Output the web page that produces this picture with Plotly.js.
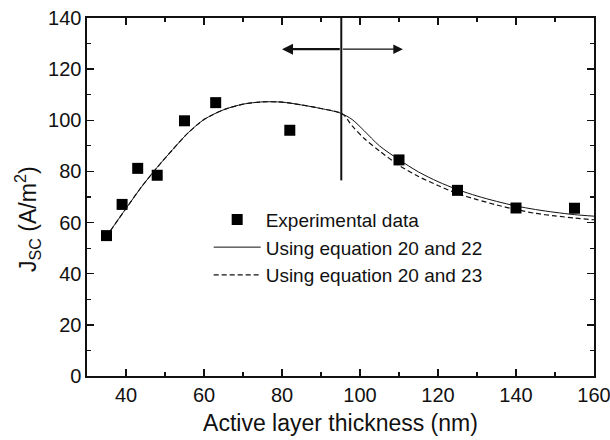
<!DOCTYPE html>
<html>
<head>
<meta charset="utf-8">
<script src="https://cdn.plot.ly/plotly-3.0.1.min.js"></script>
<style>html,body{margin:0;padding:0;background:#fff;}#chart{width:610px;height:440px;}</style>
</head>
<body>
<div id="chart"></div>
<script>
// Experimental data
const expThickness = [35, 39, 43, 48, 55, 63, 82, 110, 125, 140, 155];
const expJsc = [54.9, 67.1, 81.2, 78.5, 99.8, 106.9, 96.1, 84.5, 72.6, 65.7, 65.6];

// Model: equations 20 and 22 (solid)
const eq22Thickness = [36, 40, 44, 48, 52, 56, 60, 65, 70, 75, 80, 85, 90, 95, 98, 101, 105, 110, 115, 120, 125, 130, 135, 140, 145, 150, 155, 160];
const eq22Jsc = [56.8, 65.5, 74.0, 81.6, 88.6, 95.2, 100.3, 104.1, 106.3, 107.2, 107.1, 106.0, 104.6, 102.8, 100.3, 96.0, 90.0, 84.6, 79.8, 76.0, 72.9, 70.4, 68.3, 66.5, 65.1, 64.0, 63.1, 62.5];

// Model: equations 20 and 23 (dashed) - identical to eq22 below the boundary
const eq23Thickness = [36, 40, 44, 48, 52, 56, 60, 65, 70, 75, 80, 85, 90, 95.5, 98, 101, 105, 110, 115, 120, 125, 130, 135, 140, 145, 150, 155, 160];
const eq23Jsc = [56.8, 65.5, 74.0, 81.6, 88.6, 95.2, 100.3, 104.1, 106.3, 107.2, 107.1, 106.0, 104.6, 102.5, 97.8, 93.0, 88.0, 82.4, 78.0, 74.5, 71.3, 69.0, 66.9, 65.1, 63.6, 62.6, 61.8, 61.1];

// Boundary marker and arrow
const boundaryX = 95.2;
const boundaryBottom = 76.5;
const boundaryTop = 140;
const arrowY = 127.8;
const arrowLeftTip = 80;
const arrowRightTip = 111;

const xTicks = [40, 60, 80, 100, 120, 140, 160];
const yTicks = [0, 20, 40, 60, 80, 100, 120, 140];

const legendNames = ['Experimental data', 'Using equation 20 and 22', 'Using equation 20 and 23'];
const xTitle = 'Active layer thickness (nm)';
const yTitle = 'J<sub>SC</sub> (A/m<sup>2</sup>)';

const FONT = 'Liberation Sans, Arial, sans-serif';
const INK = '#111';

const traces = [
  {x: eq22Thickness, y: eq22Jsc, mode: 'lines', name: legendNames[1], legendrank: 2,
   line: {color: INK, width: 1, shape: 'spline', smoothing: 0.8}},
  {x: eq23Thickness, y: eq23Jsc, mode: 'lines', name: legendNames[2], legendrank: 3,
   line: {color: INK, width: 1.2, dash: '5px,3px', shape: 'spline', smoothing: 0.8}},
  {x: expThickness, y: expJsc, mode: 'markers', name: legendNames[0], legendrank: 1,
   marker: {symbol: 'square', size: 11, color: '#000'}}
];

const axisCommon = {
  showgrid: false, zeroline: false, showline: true, linecolor: INK, linewidth: 1.6,
  mirror: 'ticks', ticks: 'inside', ticklen: 7, tickwidth: 1.4, tickcolor: INK,
  ticklabeloverflow: 'allow',
  tickfont: {family: FONT, size: 20, color: INK},
  minor: {ticks: 'inside', ticklen: 4, tickwidth: 1.2, tickcolor: INK}
};

const layout = {
  width: 610, height: 440,
  margin: {l: 87, r: 16, t: 18, b: 64},
  paper_bgcolor: '#fff', plot_bgcolor: '#fff',
  font: {family: FONT, color: INK},
  showlegend: true,
  legend: {x: 0.24, y: 0.49, xanchor: 'left', yanchor: 'top', bgcolor: 'rgba(0,0,0,0)',
           font: {family: FONT, size: 19, color: INK}, itemwidth: 47, tracegroupgap: 0},
  xaxis: Object.assign({}, axisCommon, {
    range: [30, 160], tickvals: xTicks, ticktext: xTicks.map(String),
    minor: Object.assign({}, axisCommon.minor, {dtick: 10, tick0: 30}),
    title: {text: xTitle, font: {family: FONT, size: 23, color: INK}, standoff: 10}
  }),
  xaxis2: {
    overlaying: 'x', anchor: 'y', side: 'bottom', range: [30, 160],
    showgrid: false, zeroline: false, showline: false, showticklabels: false,
    tickvals: xTicks, ticks: 'outside', ticklen: 5, tickwidth: 1.4, tickcolor: INK,
    minor: {dtick: 10, tick0: 30, ticks: 'outside', ticklen: 3, tickwidth: 1.2, tickcolor: INK}
  },
  yaxis: Object.assign({}, axisCommon, {
    range: [0, 140], tickvals: yTicks, ticktext: yTicks.map(String),
    minor: Object.assign({}, axisCommon.minor, {dtick: 10, tick0: 0})
  }),
  shapes: [
    {type: 'line', xref: 'x', yref: 'y', x0: boundaryX, x1: boundaryX, y0: boundaryBottom, y1: boundaryTop,
     line: {color: INK, width: 2}}
  ],
  annotations: [
    {xref: 'x', yref: 'y', axref: 'x', ayref: 'y', x: arrowLeftTip, y: arrowY, ax: boundaryX, ay: arrowY,
     text: '', showarrow: true, arrowhead: 2, arrowsize: 1, arrowwidth: 2.2, arrowcolor: INK},
    {xref: 'x', yref: 'y', axref: 'x', ayref: 'y', x: arrowRightTip, y: arrowY, ax: boundaryX, ay: arrowY,
     text: '', showarrow: true, arrowhead: 2, arrowsize: 1.6, arrowwidth: 1.2, arrowcolor: INK},
    {xref: 'paper', yref: 'paper', x: -0.117, y: 0.438, xanchor: 'center', yanchor: 'middle',
     text: yTitle, textangle: -90, showarrow: false, font: {family: FONT, size: 23, color: INK}}
  ]
};

Plotly.newPlot('chart', traces, layout, {displayModeBar: false, staticPlot: true});
</script>
</body>
</html>
